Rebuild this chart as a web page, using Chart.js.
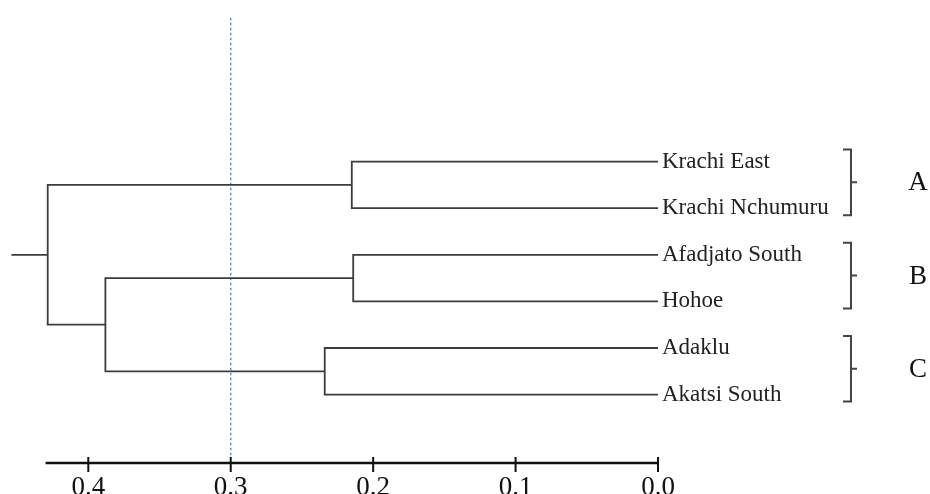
<!DOCTYPE html>
<html>

<head>
  <title>Dendrogram</title>
  <script src="https://cdn.jsdelivr.net/npm/chart.js"></script>
  <style>
    body { margin: 0; background: #fff; }
  </style>
</head>

<body>
  <canvas id="myChart" width="930" height="494"></canvas>
  <script>
    // leaves, top to bottom
    var leaves = ['Krachi East', 'Krachi Nchumuru', 'Afadjato South', 'Hohoe', 'Adaklu', 'Akatsi South'];
    // merges: [left node, right node, height]; new nodes get ids 6, 7, ...
    var merges = [
      [0, 1, 0.215],
      [2, 3, 0.214],
      [4, 5, 0.234],
      [7, 8, 0.388],
      [6, 9, 0.4285]
    ];
    var rootStemEnd = 0.454;
    var cutLevel = 0.3;
    var xTicks = [0.0, 0.1, 0.2, 0.3, 0.4];
    var groupLabels = ['A', 'B', 'C'];
    var groupFirst = [0, 2, 4];
    var groupLast = [1, 3, 5];

    var yMin = -3.085, yMax = 6.468;
    var lineColor = '#3c3c3c';
    var serif = "'Liberation Serif', 'Times New Roman', serif";

    // node positions
    var nodeX = leaves.map(function () { return 0; });
    var nodeY = leaves.map(function (_, i) { return i; });
    var datasets = [];
    merges.forEach(function (m) {
      var a = m[0], b = m[1], h = m[2];
      datasets.push({
        data: [
          { x: nodeX[a], y: nodeY[a] },
          { x: h, y: nodeY[a] },
          { x: h, y: nodeY[b] },
          { x: nodeX[b], y: nodeY[b] }
        ]
      });
      nodeX.push(h);
      nodeY.push((nodeY[a] + nodeY[b]) / 2);
    });
    var root = nodeX.length - 1;
    datasets.push({ data: [{ x: nodeX[root], y: nodeY[root] }, { x: rootStemEnd, y: nodeY[root] }] });
    datasets.forEach(function (d) {
      d.borderColor = lineColor;
      d.borderWidth = 1.8;
      d.pointRadius = 0;
      d.showLine = true;
      d.fill = false;
    });
    datasets.push({
      data: [{ x: cutLevel, y: yMin }, { x: cutLevel, y: 6.3 }],
      borderColor: '#5b8ae6',
      borderWidth: 1.5,
      borderDash: [2.5, 2.5],
      pointRadius: 0,
      showLine: true
    });

    var extras = {
      id: 'extras',
      afterDraw: function (chart) {
        var ctx = chart.ctx, xs = chart.scales.x, ys = chart.scales.y;
        var yb = chart.chartArea.bottom;
        ctx.save();
        // axis line and ticks
        ctx.strokeStyle = '#111';
        ctx.lineWidth = 2.5;
        ctx.beginPath();
        ctx.moveTo(xs.getPixelForValue(0.43), yb);
        ctx.lineTo(xs.getPixelForValue(0), yb);
        ctx.stroke();
        ctx.lineWidth = 2;
        xTicks.forEach(function (v) {
          var px = xs.getPixelForValue(v);
          ctx.beginPath();
          ctx.moveTo(px, yb - 6);
          ctx.lineTo(px, yb + 9);
          ctx.stroke();
        });
        // group brackets
        var bx = chart.chartArea.right + 193;
        ctx.strokeStyle = '#444';
        ctx.lineWidth = 2;
        ctx.fillStyle = '#111';
        ctx.font = '27px ' + serif;
        ctx.textAlign = 'center';
        ctx.textBaseline = 'middle';
        groupLabels.forEach(function (g, i) {
          var top = ys.getPixelForValue(groupFirst[i]) - 12;
          var bot = ys.getPixelForValue(groupLast[i]) + 7;
          var mid = (top + bot) / 2;
          ctx.beginPath();
          ctx.moveTo(bx - 8, top);
          ctx.lineTo(bx, top);
          ctx.lineTo(bx, bot);
          ctx.lineTo(bx - 8, bot);
          ctx.moveTo(bx, mid);
          ctx.lineTo(bx + 6, mid);
          ctx.stroke();
          ctx.fillText(g, bx + 67, mid + 1);
        });
        ctx.restore();
      }
    };

    var ctx = document.getElementById('myChart').getContext('2d');
    var chart = new Chart(ctx, {
      type: 'scatter',
      data: { datasets: datasets },
      plugins: [extras],
      options: {
        responsive: false,
        animation: false,
        devicePixelRatio: 1,
        layout: { padding: { top: 14, left: 0, right: 0, bottom: 0 } },
        plugins: { legend: { display: false }, tooltip: { enabled: false } },
        scales: {
          x: {
            type: 'linear',
            reverse: true,
            min: 0,
            max: 0.462,
            afterBuildTicks: function (s) { s.ticks = xTicks.map(function (v) { return { value: v }; }); },
            afterFit: function (s) { s.height = 31; },
            grid: { display: false, drawTicks: false },
            border: { display: false },
            ticks: {
              padding: 9,
              color: '#111',
              font: { family: serif, size: 27 },
              maxRotation: 0,
              callback: function (v) { return Number(v).toFixed(1); }
            }
          },
          y: {
            type: 'linear',
            position: 'right',
            reverse: true,
            min: yMin,
            max: yMax,
            afterBuildTicks: function (s) { s.ticks = leaves.map(function (_, i) { return { value: i }; }); },
            afterFit: function (s) { s.width = 272; },
            grid: { display: false, drawTicks: false },
            border: { display: false },
            ticks: {
              padding: 4,
              color: '#222',
              font: { family: serif, size: 23 },
              callback: function (v) { return leaves[v]; }
            }
          }
        }
      }
    });
  </script>
</body>

</html>
